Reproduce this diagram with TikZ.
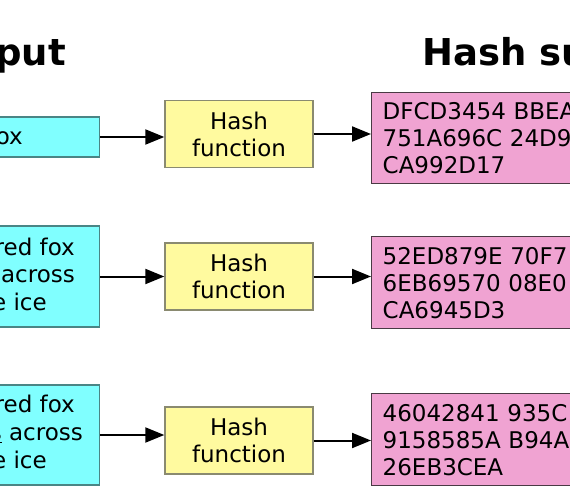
\documentclass[tikz,border=0pt]{standalone}
\usepackage{fontspec}
\setmainfont{DejaVu Sans}
\usetikzlibrary{positioning, arrows.meta}

\definecolor{incyan}{HTML}{80FFFF}
\definecolor{inedge}{HTML}{4A8585}
\definecolor{hashyellow}{HTML}{FFFA9F}
\definecolor{hashedge}{HTML}{8A8A70}
\definecolor{digestpink}{HTML}{F0A3D2}
\definecolor{digestedge}{HTML}{4A3A44}

\tikzset{
	boxfont/.style={font=\fontsize{23bp}{27bp}\selectfont},
	inbox/.style={draw=inedge, fill=incyan, line width=1.4bp, minimum width=220bp, inner sep=0pt, anchor=east},
	intext/.style={boxfont, inner sep=0pt, anchor=base east},
	hashbox/.style={draw=hashedge, fill=hashyellow, line width=1.4bp, boxfont, align=center,
		minimum width=148bp, minimum height=67bp, inner sep=0pt},
	digestbox/.style={draw=digestedge, fill=digestpink, line width=1.4bp, boxfont, align=left,
		text width=260bp, inner xsep=11bp, inner ysep=0pt, anchor=north west},
	title/.style={font=\fontsize{37bp}{40bp}\selectfont\bfseries, inner sep=0pt},
	arr/.style={-{Triangle[length=19bp,width=15bp]}, line width=2bp, draw=black}
}

\begin{document}
\begin{tikzpicture}[x=1bp, y=-1bp]
	\useasboundingbox (0,0) rectangle (570,500);
	\clip (0,0) rectangle (570,500);
	
	% column titles
	\node[title, anchor=base east] (intitle) at (66,66) {put};
	\node[title, anchor=base west] (outtitle) at (422,66) {Hash su};
	
	% first row
	\node[inbox, minimum height=40bp] (in1) at (100,137) {};
	\node[intext] (in1a) at (23,145) {ox};
	\node[hashbox] (hash1) at (239,134) {Hash\\function};
	\node[digestbox, minimum height=91bp] (out1) at (371,92) {DFCD3454 BBEA\\751A696C 24D9\\CA992D17};
	
	% second row
	\node[inbox, minimum height=101bp] (in2) at (100,276.5) {};
	\node[intext] (in2a) at (75,255) {red fox};
	\node[intext] (in2b) at (75,282) {across};
	\node[intext] (in2c) at (47,310) {e ice};
	\node[hashbox] (hash2) at (239,276.5) {Hash\\function};
	\node[digestbox, minimum height=92bp] (out2) at (371,236) {52ED879E 70F7\\6EB69570 08E0\\CA6945D3};
	
	% third row
	\node[inbox, minimum height=100bp] (in3) at (100,435) {};
	\node[intext] (in3a) at (75,412) {red fox};
	\node[intext] (in3b) at (83,440) {\underline{s} across};
	\node[intext] (in3c) at (47,468) {e ice};
	\node[hashbox] (hash3) at (239,440.5) {Hash\\function};
	\node[digestbox, minimum height=92bp] (out3) at (371,393) {46042841 935C\\9158585A B94A\\26EB3CEA};
	
	\draw[arr] (in1.east) -- (in1.east -| hash1.west);
	\draw[arr] (hash1.east) -- (hash1.east -| out1.west);
	
	\draw[arr] (in2.east) -- (in2.east -| hash2.west);
	\draw[arr] (hash2.east) -- (hash2.east -| out2.west);
	
	\draw[arr] (in3.east) -- (in3.east -| hash3.west);
	\draw[arr] (hash3.east) -- (hash3.east -| out3.west);
\end{tikzpicture}
\end{document}
